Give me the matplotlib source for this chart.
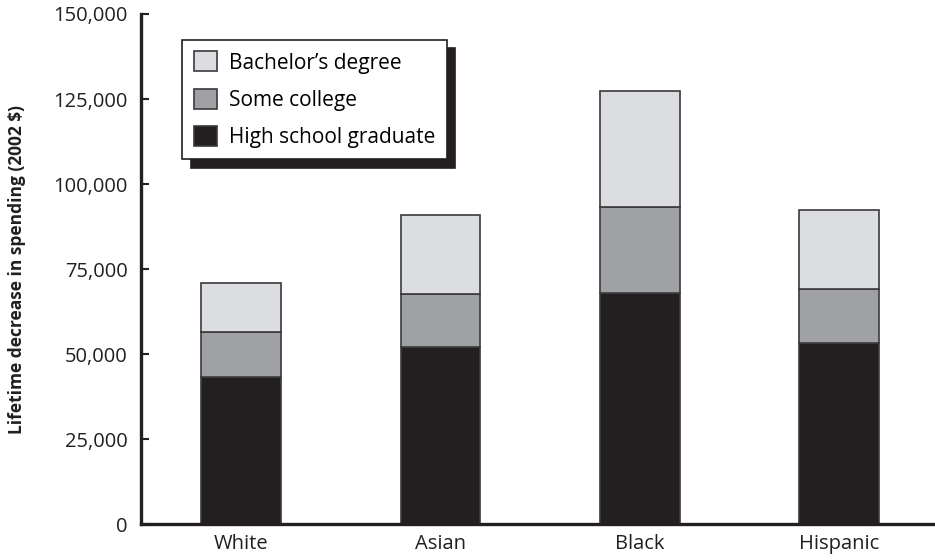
import matplotlib.pyplot as plt
import numpy as np

groups = ["White", "Asian", "Black", "Hispanic"]
high_school = [43200, 52000, 68000, 53300]
some_college = [13400, 15600, 25200, 15700]
bachelors = [14200, 23300, 34200, 23400]

c_hs = "#231f20"
c_sc = "#a0a1a4"
c_ba = "#dcdde0"
edge = "#3a3a3c"

plt.rcParams["font.family"] = ["Open Sans", "DejaVu Sans"]

fig = plt.figure(figsize=(9.35, 5.6), dpi=100)
ax = fig.add_axes([0.151, 0.064, 0.847, 0.911])

x = np.arange(len(groups))
w = 0.4
hs = np.array(high_school)
sc = np.array(some_college)
ba = np.array(bachelors)

b1 = ax.bar(x, hs, w, color=c_hs, edgecolor=edge, linewidth=1.2, label="High school graduate")
b2 = ax.bar(x, sc, w, bottom=hs, color=c_sc, edgecolor=edge, linewidth=1.2, label="Some college")
b3 = ax.bar(x, ba, w, bottom=hs + sc, color=c_ba, edgecolor=edge, linewidth=1.2, label="Bachelor\u2019s degree")

ax.set_xlim(-0.5, 3.47)
ax.set_ylim(0, 150000)
ax.set_yticks(np.arange(0, 150001, 25000))
ax.set_yticklabels([f"{v:,}" for v in range(0, 150001, 25000)])
ax.set_xticks(x)
ax.set_xticklabels(groups)
ax.tick_params(axis="y", direction="in", length=6, width=1.5, labelsize=14.5, pad=9.5, colors="#231f20")
ax.tick_params(axis="x", length=0, labelsize=14.5, pad=7, colors="#231f20")
for s in ["top", "right"]:
    ax.spines[s].set_visible(False)
for s in ["left", "bottom"]:
    ax.spines[s].set_linewidth(2.4)
    ax.spines[s].set_color("#231f20")

ax.set_ylabel("Lifetime decrease in spending (2002 $)", fontsize=12.5, fontweight="bold",
              color="#231f20", labelpad=20)

leg = ax.legend(handles=[b3, b2, b1], loc="upper left", bbox_to_anchor=(0.052, 0.949),
                borderaxespad=0, fontsize=15, frameon=True, fancybox=False, edgecolor="#231f20",
                handlelength=1.1, handleheight=1.1, handletextpad=0.6,
                labelspacing=0.72, borderpad=0.55,
                shadow={"color": "#231f20", "alpha": 1, "ox": 6, "oy": -6})
leg.get_frame().set_linewidth(1.2)

fig.savefig("out.png", dpi=100)
